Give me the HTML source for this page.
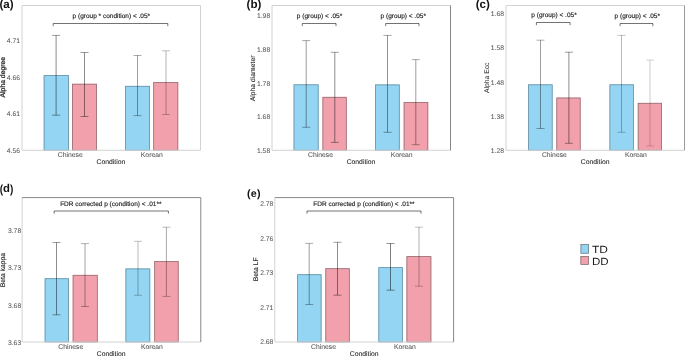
<!DOCTYPE html>
<html><head><meta charset="utf-8"><style>
html,body{margin:0;padding:0;background:#fff;width:685px;height:356px;overflow:hidden}
svg{display:block;will-change:transform;font-family:"Liberation Sans",sans-serif;text-rendering:geometricPrecision}
</style></head><body>
<svg width="685" height="356" viewBox="0 0 685 356">
<rect x="43.7" y="75.2" width="25.3" height="75.1" fill="#93d5f2"/>
<rect x="44.1" y="75.6" width="24.5" height="74.7" fill="none" stroke="#6b90a2" stroke-width="0.8"/>
<rect x="72" y="83.8" width="25" height="66.5" fill="#f2a1ac"/>
<rect x="72.4" y="84.2" width="24.2" height="66.1" fill="none" stroke="#946e74" stroke-width="0.8"/>
<rect x="125" y="85.9" width="24.8" height="64.4" fill="#93d5f2"/>
<rect x="125.4" y="86.3" width="24" height="64" fill="none" stroke="#6b90a2" stroke-width="0.8"/>
<rect x="153.3" y="82.1" width="24.9" height="68.2" fill="#f2a1ac"/>
<rect x="153.7" y="82.5" width="24.1" height="67.8" fill="none" stroke="#946e74" stroke-width="0.8"/>
<path d="M56.1 35.4V115.2" stroke="#000" stroke-opacity="0.46" stroke-width="1" fill="none"/>
<path d="M52.1 35.4H60.1M52.1 115.2H60.1" stroke="#000" stroke-opacity="0.44" stroke-width="0.9" fill="none"/>
<path d="M84.5 52.5V116.5" stroke="#000" stroke-opacity="0.45" stroke-width="1" fill="none"/>
<path d="M80.5 52.5H88.5M80.5 116.5H88.5" stroke="#000" stroke-opacity="0.43" stroke-width="0.9" fill="none"/>
<path d="M137.5 55.5V115.6" stroke="#000" stroke-opacity="0.38" stroke-width="1" fill="none"/>
<path d="M133.5 55.5H141.5M133.5 115.6H141.5" stroke="#000" stroke-opacity="0.36" stroke-width="0.9" fill="none"/>
<path d="M166 50.8V114.5" stroke="#000" stroke-opacity="0.3" stroke-width="1" fill="none"/>
<path d="M162 50.8H170M162 114.5H170" stroke="#000" stroke-opacity="0.28" stroke-width="0.9" fill="none"/>
<path d="M22 5.5V150.3H200.5" stroke="#d2d2d2" stroke-width="1" fill="none"/>
<path d="M22 5.5H200.5" stroke="#d2d2d2" stroke-width="1" fill="none"/>
<path d="M200.5 5.5V150.3" stroke="#d2d2d2" stroke-width="1" fill="none"/>
<path d="M53.2 26.2V23.5H167.8V26.2" stroke="#000" stroke-opacity="0.55" stroke-width="1" fill="none"/>
<text x="111.35" y="18.1" text-anchor="middle" font-size="6.5" fill="#1e1e1e" stroke="#1e1e1e" stroke-width="0.15">p (group * condition) &lt; .05*</text>
<text x="20" y="42.95" text-anchor="end" font-size="6.8" fill="#555" stroke="#555" stroke-width="0.04">4.71</text>
<text x="20" y="79.75" text-anchor="end" font-size="6.8" fill="#555" stroke="#555" stroke-width="0.04">4.66</text>
<text x="20" y="116.25" text-anchor="end" font-size="6.8" fill="#555" stroke="#555" stroke-width="0.04">4.61</text>
<text x="20" y="152.65" text-anchor="end" font-size="6.8" fill="#555" stroke="#555" stroke-width="0.04">4.56</text>
<text transform="translate(5.2 77.2) rotate(-90)" text-anchor="middle" font-size="6.8" fill="#1a1a1a" stroke="#1a1a1a" stroke-width="0.22">Alpha degree</text>
<text x="70.3" y="156.8" text-anchor="middle" font-size="6.8" fill="#555" stroke="#555" stroke-width="0.06">Chinese</text>
<text x="151.8" y="156.8" text-anchor="middle" font-size="6.8" fill="#555" stroke="#555" stroke-width="0.06">Korean</text>
<text x="110.9" y="163.8" text-anchor="middle" font-size="6.8" fill="#1a1a1a" stroke="#1a1a1a" stroke-width="0.06">Condition</text>
<text x="-0.6" y="7.9" font-size="11.6" font-weight="bold" fill="#111">(a)</text>
<rect x="293.6" y="84.4" width="25" height="65.9" fill="#93d5f2"/>
<rect x="294" y="84.8" width="24.2" height="65.5" fill="none" stroke="#6b90a2" stroke-width="0.8"/>
<rect x="322.5" y="96.9" width="24.2" height="53.4" fill="#f2a1ac"/>
<rect x="322.9" y="97.3" width="23.4" height="53" fill="none" stroke="#946e74" stroke-width="0.8"/>
<rect x="375.1" y="84.5" width="24.6" height="65.8" fill="#93d5f2"/>
<rect x="375.5" y="84.9" width="23.8" height="65.4" fill="none" stroke="#6b90a2" stroke-width="0.8"/>
<rect x="403.7" y="102" width="24.5" height="48.3" fill="#f2a1ac"/>
<rect x="404.1" y="102.4" width="23.7" height="47.9" fill="none" stroke="#946e74" stroke-width="0.8"/>
<path d="M306.2 40.6V127.3" stroke="#000" stroke-opacity="0.4" stroke-width="1" fill="none"/>
<path d="M302.2 40.6H310.2M302.2 127.3H310.2" stroke="#000" stroke-opacity="0.38" stroke-width="0.9" fill="none"/>
<path d="M334.8 52.3V142.4" stroke="#000" stroke-opacity="0.45" stroke-width="1" fill="none"/>
<path d="M330.8 52.3H338.8M330.8 142.4H338.8" stroke="#000" stroke-opacity="0.43" stroke-width="0.9" fill="none"/>
<path d="M387.5 35.4V132.3" stroke="#000" stroke-opacity="0.42" stroke-width="1" fill="none"/>
<path d="M383.5 35.4H391.5M383.5 132.3H391.5" stroke="#000" stroke-opacity="0.40" stroke-width="0.9" fill="none"/>
<path d="M415.8 59.6V144.7" stroke="#000" stroke-opacity="0.38" stroke-width="1" fill="none"/>
<path d="M411.8 59.6H419.8M411.8 144.7H419.8" stroke="#000" stroke-opacity="0.36" stroke-width="0.9" fill="none"/>
<path d="M272 5.5V150.3H450.5" stroke="#d2d2d2" stroke-width="1" fill="none"/>
<path d="M272 5.5H450.5" stroke="#d2d2d2" stroke-width="1" fill="none"/>
<path d="M450.5 5.5V150.3" stroke="#858585" stroke-width="1" fill="none"/>
<path d="M302.3 26.2V23.5H336V26.2" stroke="#000" stroke-opacity="0.55" stroke-width="1" fill="none"/>
<text x="319.5" y="18.2" text-anchor="middle" font-size="6.5" fill="#1e1e1e" stroke="#1e1e1e" stroke-width="0.15">p (group) &lt; .05*</text>
<path d="M385.7 26.2V23.5H419V26.2" stroke="#000" stroke-opacity="0.55" stroke-width="1" fill="none"/>
<text x="403.25" y="18.2" text-anchor="middle" font-size="6.5" fill="#1e1e1e" stroke="#1e1e1e" stroke-width="0.15">p (group) &lt; .05*</text>
<text x="270.2" y="17.85" text-anchor="end" font-size="6.8" fill="#555" stroke="#555" stroke-width="0.04">1.98</text>
<text x="270.2" y="52.15" text-anchor="end" font-size="6.8" fill="#555" stroke="#555" stroke-width="0.04">1.88</text>
<text x="270.2" y="85.55" text-anchor="end" font-size="6.8" fill="#555" stroke="#555" stroke-width="0.04">1.78</text>
<text x="270.2" y="119.45" text-anchor="end" font-size="6.8" fill="#555" stroke="#555" stroke-width="0.04">1.68</text>
<text x="270.2" y="152.75" text-anchor="end" font-size="6.8" fill="#555" stroke="#555" stroke-width="0.04">1.58</text>
<text transform="translate(255 78.4) rotate(-90)" text-anchor="middle" font-size="6.8" fill="#1a1a1a" stroke="#1a1a1a" stroke-width="0.08">Alpha diameter</text>
<text x="320.45" y="156.8" text-anchor="middle" font-size="6.8" fill="#555" stroke="#555" stroke-width="0.06">Chinese</text>
<text x="401.6" y="156.8" text-anchor="middle" font-size="6.8" fill="#555" stroke="#555" stroke-width="0.06">Korean</text>
<text x="361" y="163.8" text-anchor="middle" font-size="6.8" fill="#1a1a1a" stroke="#1a1a1a" stroke-width="0.06">Condition</text>
<text x="246.6" y="7.9" font-size="11.6" font-weight="bold" fill="#111">(b)</text>
<rect x="528.1" y="84.4" width="24.5" height="65.9" fill="#93d5f2"/>
<rect x="528.5" y="84.8" width="23.7" height="65.5" fill="none" stroke="#6b90a2" stroke-width="0.8"/>
<rect x="556.4" y="97.6" width="24.2" height="52.7" fill="#f2a1ac"/>
<rect x="556.8" y="98" width="23.4" height="52.3" fill="none" stroke="#946e74" stroke-width="0.8"/>
<rect x="609.5" y="84.4" width="24.3" height="65.9" fill="#93d5f2"/>
<rect x="609.9" y="84.8" width="23.5" height="65.5" fill="none" stroke="#6b90a2" stroke-width="0.8"/>
<rect x="637.8" y="102.9" width="24.2" height="47.4" fill="#f2a1ac"/>
<rect x="638.2" y="103.3" width="23.4" height="47" fill="none" stroke="#946e74" stroke-width="0.8"/>
<path d="M540.5 40.2V128.5" stroke="#000" stroke-opacity="0.38" stroke-width="1" fill="none"/>
<path d="M536.5 40.2H544.5M536.5 128.5H544.5" stroke="#000" stroke-opacity="0.36" stroke-width="0.9" fill="none"/>
<path d="M568.9 52.2V143.3" stroke="#000" stroke-opacity="0.45" stroke-width="1" fill="none"/>
<path d="M564.9 52.2H572.9M564.9 143.3H572.9" stroke="#000" stroke-opacity="0.43" stroke-width="0.9" fill="none"/>
<path d="M621.5 35.4V132.3" stroke="#000" stroke-opacity="0.28" stroke-width="1" fill="none"/>
<path d="M617.5 35.4H625.5M617.5 132.3H625.5" stroke="#000" stroke-opacity="0.27" stroke-width="0.9" fill="none"/>
<path d="M650 60.1V145.9" stroke="#000" stroke-opacity="0.2" stroke-width="1" fill="none"/>
<path d="M646 60.1H654M646 145.9H654" stroke="#000" stroke-opacity="0.19" stroke-width="0.9" fill="none"/>
<path d="M506 5.5V150.3H684.5" stroke="#d2d2d2" stroke-width="1" fill="none"/>
<path d="M506 5.5H684.5" stroke="#d2d2d2" stroke-width="1" fill="none"/>
<path d="M684.5 5.5V150.3" stroke="#9a9a9a" stroke-width="1" fill="none"/>
<path d="M536.4 25.2V22.5H570.1V25.2" stroke="#000" stroke-opacity="0.55" stroke-width="1" fill="none"/>
<text x="554" y="17.4" text-anchor="middle" font-size="6.5" fill="#1e1e1e" stroke="#1e1e1e" stroke-width="0.15">p (group) &lt; .05*</text>
<path d="M620.1 26.2V23.5H652.9V26.2" stroke="#000" stroke-opacity="0.55" stroke-width="1" fill="none"/>
<text x="637.3" y="17.8" text-anchor="middle" font-size="6.5" fill="#1e1e1e" stroke="#1e1e1e" stroke-width="0.15">p (group) &lt; .05*</text>
<text x="504" y="15.95" text-anchor="end" font-size="6.8" fill="#555" stroke="#555" stroke-width="0.04">1.68</text>
<text x="504" y="50.25" text-anchor="end" font-size="6.8" fill="#555" stroke="#555" stroke-width="0.04">1.58</text>
<text x="504" y="84.75" text-anchor="end" font-size="6.8" fill="#555" stroke="#555" stroke-width="0.04">1.48</text>
<text x="504" y="118.75" text-anchor="end" font-size="6.8" fill="#555" stroke="#555" stroke-width="0.04">1.38</text>
<text x="504" y="152.75" text-anchor="end" font-size="6.8" fill="#555" stroke="#555" stroke-width="0.04">1.28</text>
<text transform="translate(489.4 77.8) rotate(-90)" text-anchor="middle" font-size="6.8" fill="#1a1a1a" stroke="#1a1a1a" stroke-width="0">Alpha Ecc</text>
<text x="554.4" y="156.8" text-anchor="middle" font-size="6.8" fill="#555" stroke="#555" stroke-width="0.06">Chinese</text>
<text x="635.9" y="156.8" text-anchor="middle" font-size="6.8" fill="#555" stroke="#555" stroke-width="0.06">Korean</text>
<text x="595.2" y="163.8" text-anchor="middle" font-size="6.8" fill="#1a1a1a" stroke="#1a1a1a" stroke-width="0.06">Condition</text>
<text x="475.7" y="7.9" font-size="11.6" font-weight="bold" fill="#111">(c)</text>
<rect x="44.7" y="278.3" width="24.1" height="63.7" fill="#93d5f2"/>
<rect x="45.1" y="278.7" width="23.3" height="63.3" fill="none" stroke="#6b90a2" stroke-width="0.8"/>
<rect x="72.7" y="274.9" width="25" height="67.1" fill="#f2a1ac"/>
<rect x="73.1" y="275.3" width="24.2" height="66.7" fill="none" stroke="#946e74" stroke-width="0.8"/>
<rect x="125.5" y="268.5" width="24.7" height="73.5" fill="#93d5f2"/>
<rect x="125.9" y="268.9" width="23.9" height="73.1" fill="none" stroke="#6b90a2" stroke-width="0.8"/>
<rect x="154.3" y="261.1" width="24.3" height="80.9" fill="#f2a1ac"/>
<rect x="154.7" y="261.5" width="23.5" height="80.5" fill="none" stroke="#946e74" stroke-width="0.8"/>
<path d="M56.5 242.5V314.8" stroke="#000" stroke-opacity="0.45" stroke-width="1" fill="none"/>
<path d="M52.5 242.5H60.5M52.5 314.8H60.5" stroke="#000" stroke-opacity="0.43" stroke-width="0.9" fill="none"/>
<path d="M85 243.6V306.5" stroke="#000" stroke-opacity="0.36" stroke-width="1" fill="none"/>
<path d="M81 243.6H89M81 306.5H89" stroke="#000" stroke-opacity="0.34" stroke-width="0.9" fill="none"/>
<path d="M138 241.3V295.3" stroke="#000" stroke-opacity="0.28" stroke-width="1" fill="none"/>
<path d="M134 241.3H142M134 295.3H142" stroke="#000" stroke-opacity="0.27" stroke-width="0.9" fill="none"/>
<path d="M166.4 227.2V296.4" stroke="#000" stroke-opacity="0.33" stroke-width="1" fill="none"/>
<path d="M162.4 227.2H170.4M162.4 296.4H170.4" stroke="#000" stroke-opacity="0.31" stroke-width="0.9" fill="none"/>
<path d="M22.1 197.6V342H200.8" stroke="#d2d2d2" stroke-width="1" fill="none"/>
<path d="M22.1 197.6H200.8" stroke="#8a8a8a" stroke-width="1" fill="none"/>
<path d="M200.8 197.6V342" stroke="#858585" stroke-width="1" fill="none"/>
<path d="M54.2 213.7V211H168.4V213.7" stroke="#000" stroke-opacity="0.55" stroke-width="1" fill="none"/>
<text x="110.8" y="206.1" text-anchor="middle" font-size="6.5" fill="#1e1e1e" stroke="#1e1e1e" stroke-width="0.15">FDR corrected p (condition) &lt; .01**</text>
<text x="21.2" y="232.55" text-anchor="end" font-size="6.8" fill="#555" stroke="#555" stroke-width="0.04">3.78</text>
<text x="21.2" y="269.95" text-anchor="end" font-size="6.8" fill="#555" stroke="#555" stroke-width="0.04">3.73</text>
<text x="21.2" y="307.75" text-anchor="end" font-size="6.8" fill="#555" stroke="#555" stroke-width="0.04">3.68</text>
<text x="21.2" y="344.75" text-anchor="end" font-size="6.8" fill="#555" stroke="#555" stroke-width="0.04">3.63</text>
<text transform="translate(5.1 270.1) rotate(-90)" text-anchor="middle" font-size="6.8" fill="#1a1a1a" stroke="#1a1a1a" stroke-width="0.12">Beta kappa</text>
<text x="70.7" y="348.6" text-anchor="middle" font-size="6.8" fill="#555" stroke="#555" stroke-width="0.06">Chinese</text>
<text x="151.95" y="348.6" text-anchor="middle" font-size="6.8" fill="#555" stroke="#555" stroke-width="0.06">Korean</text>
<text x="111.2" y="355.6" text-anchor="middle" font-size="6.8" fill="#1a1a1a" stroke="#1a1a1a" stroke-width="0.06">Condition</text>
<text transform="translate(-0.2 192.7) scale(0.85 1)" font-size="11.8" font-weight="bold" fill="#111">(</text>
<text x="3.1" y="192.3" font-size="11.3" font-weight="bold" fill="#111">d</text>
<text transform="translate(9.9 192.7) scale(0.85 1)" font-size="11.8" font-weight="bold" fill="#111">)</text>
<rect x="297.2" y="274.3" width="24.3" height="67.7" fill="#93d5f2"/>
<rect x="297.6" y="274.7" width="23.5" height="67.3" fill="none" stroke="#6b90a2" stroke-width="0.8"/>
<rect x="325.4" y="268.3" width="24.3" height="73.7" fill="#f2a1ac"/>
<rect x="325.8" y="268.7" width="23.5" height="73.3" fill="none" stroke="#946e74" stroke-width="0.8"/>
<rect x="378.4" y="267.2" width="24.4" height="74.8" fill="#93d5f2"/>
<rect x="378.8" y="267.6" width="23.6" height="74.4" fill="none" stroke="#6b90a2" stroke-width="0.8"/>
<rect x="406.5" y="256.2" width="24.8" height="85.8" fill="#f2a1ac"/>
<rect x="406.9" y="256.6" width="24" height="85.4" fill="none" stroke="#946e74" stroke-width="0.8"/>
<path d="M309.2 243.4V304.5" stroke="#000" stroke-opacity="0.38" stroke-width="1" fill="none"/>
<path d="M305.2 243.4H313.2M305.2 304.5H313.2" stroke="#000" stroke-opacity="0.36" stroke-width="0.9" fill="none"/>
<path d="M337.5 242.3V295.2" stroke="#000" stroke-opacity="0.45" stroke-width="1" fill="none"/>
<path d="M333.5 242.3H341.5M333.5 295.2H341.5" stroke="#000" stroke-opacity="0.43" stroke-width="0.9" fill="none"/>
<path d="M390.5 243.5V290.2" stroke="#000" stroke-opacity="0.5" stroke-width="1" fill="none"/>
<path d="M386.5 243.5H394.5M386.5 290.2H394.5" stroke="#000" stroke-opacity="0.47" stroke-width="0.9" fill="none"/>
<path d="M419 227.2V286.2" stroke="#000" stroke-opacity="0.3" stroke-width="1" fill="none"/>
<path d="M415 227.2H423M415 286.2H423" stroke="#000" stroke-opacity="0.28" stroke-width="0.9" fill="none"/>
<path d="M274.8 197.6V342H453.6" stroke="#d2d2d2" stroke-width="1" fill="none"/>
<path d="M274.8 197.6H453.6" stroke="#8a8a8a" stroke-width="1" fill="none"/>
<path d="M453.6 197.6V342" stroke="#858585" stroke-width="1" fill="none"/>
<path d="M307 213.7V211H421V213.7" stroke="#000" stroke-opacity="0.55" stroke-width="1" fill="none"/>
<text x="363.9" y="206" text-anchor="middle" font-size="6.5" fill="#1e1e1e" stroke="#1e1e1e" stroke-width="0.15">FDR corrected p (condition) &lt; .01**</text>
<text x="273.4" y="206.45" text-anchor="end" font-size="6.8" fill="#555" stroke="#555" stroke-width="0.04">2.78</text>
<text x="273.4" y="240.75" text-anchor="end" font-size="6.8" fill="#555" stroke="#555" stroke-width="0.04">2.76</text>
<text x="273.4" y="274.75" text-anchor="end" font-size="6.8" fill="#555" stroke="#555" stroke-width="0.04">2.73</text>
<text x="273.4" y="309.65" text-anchor="end" font-size="6.8" fill="#555" stroke="#555" stroke-width="0.04">2.71</text>
<text x="273.4" y="344.45" text-anchor="end" font-size="6.8" fill="#555" stroke="#555" stroke-width="0.04">2.68</text>
<text transform="translate(258.2 269.3) rotate(-90)" text-anchor="middle" font-size="6.8" fill="#1a1a1a" stroke="#1a1a1a" stroke-width="0.12">Beta LF</text>
<text x="323.45" y="348.6" text-anchor="middle" font-size="6.8" fill="#555" stroke="#555" stroke-width="0.06">Chinese</text>
<text x="404.85" y="348.6" text-anchor="middle" font-size="6.8" fill="#555" stroke="#555" stroke-width="0.06">Korean</text>
<text x="364.15" y="355.6" text-anchor="middle" font-size="6.8" fill="#1a1a1a" stroke="#1a1a1a" stroke-width="0.06">Condition</text>
<text x="247.0" y="197.4" font-size="10.7" font-weight="bold" fill="#111" letter-spacing="0.3">(e)</text>
<rect x="580.6" y="244.2" width="8.3" height="9.4" fill="#93d5f2"/>
<rect x="580.95" y="244.55" width="7.6" height="8.7" fill="none" stroke="#707070" stroke-width="0.7"/>
<rect x="580.5" y="256" width="8.4" height="8.7" fill="#f2a1ac"/>
<rect x="580.85" y="256.35" width="7.7" height="8" fill="none" stroke="#707070" stroke-width="0.7"/>
<text transform="translate(592 253.3) scale(1.15 1)" font-size="10.4" fill="#1a1a1a">TD</text>
<text transform="translate(592 264.8) scale(1.11 1)" font-size="10.4" fill="#1a1a1a">DD</text>
</svg>
</body></html>
